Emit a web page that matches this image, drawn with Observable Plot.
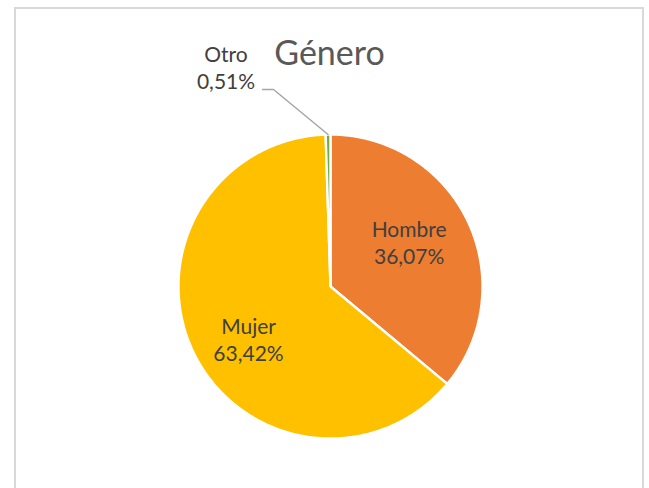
<!DOCTYPE html>
<html>
<head>
<meta charset="utf-8">
<script src="https://cdn.jsdelivr.net/npm/d3@7"></script>
<script src="https://cdn.jsdelivr.net/npm/@observablehq/plot@0.6"></script>
<style>
  html, body { margin: 0; padding: 0; background: #fff; overflow: hidden; }
  #wrap { position: relative; width: 649px; height: 488px; }
  #border { position: absolute; left: 14px; top: 7px; width: 626px; height: 520px;
            border: 2px solid #d9d9d9; box-sizing: content-box; pointer-events: none; }
  #chart { position: absolute; left: 0; top: 0; }
</style>
</head>
<body>
<div id="wrap"><div id="chart"></div><div id="border"></div></div>
<script>
const title = "Género";
const categories = ["Hombre", "Mujer", "Otro"];
const percents = [36.07, 63.42, 0.51];
const percentLabels = ["36,07%", "63,42%", "0,51%"];
const colors = ["#ED7D31", "#FFC000", "#70AD47"];

// Build slice polygons (angles clockwise from 12 o'clock)
const total = d3.sum(percents);
let acc = 0;
const slices = categories.map((name, i) => {
  const a0 = acc / total * 2 * Math.PI;
  acc += percents[i];
  const a1 = acc / total * 2 * Math.PI;
  const pts = [{x: 0, y: 0}];
  const n = Math.max(2, Math.ceil((a1 - a0) / (Math.PI / 360)));
  for (let k = 0; k <= n; k++) {
    const a = a0 + (a1 - a0) * k / n;
    pts.push({x: Math.sin(a), y: Math.cos(a)});
  }
  return {name, color: colors[i], pts, mid: (a0 + a1) / 2, text: name + "\n" + percentLabels[i]};
});

const font = "Lato, 'Open Sans', sans-serif";
const inside = slices.slice(0, 2);
const otro = slices[2];
// leader line for the small slice
const edge = {x: Math.sin(otro.mid), y: Math.cos(otro.mid)};
const leader = [{x: -0.447, y: 1.296}, {x: -0.375, y: 1.296}, edge];

const marks = [
  ...slices.map(s => Plot.line(s.pts, {x: "x", y: "y", fill: s.color, stroke: "white", strokeWidth: 2.4, strokeLinejoin: "miter", curve: "linear-closed"})),
  Plot.text([inside[0]], {x: d => 0.6 * Math.sin(d.mid), y: d => 0.6 * Math.cos(d.mid), text: "text", dx: -4, dy: -6,
    fontSize: 21, fontFamily: font, fill: "#404040", lineHeight: 1.31, lineAnchor: "middle", textAnchor: "middle"}),
  Plot.text([inside[1]], {x: d => 0.6 * Math.sin(d.mid), y: d => 0.6 * Math.cos(d.mid), text: "text", dx: 0, dy: 12,
    fontSize: 21, fontFamily: font, fill: "#404040", lineHeight: 1.31, lineAnchor: "middle", textAnchor: "middle"}),
  Plot.line(leader, {x: "x", y: "y", stroke: "#a6a6a6", strokeWidth: 1.5}),
  Plot.text([otro], {x: () => -0.6875, y: () => 1.445, text: "text",
    fontSize: 21, fontFamily: font, fill: "#404040", lineHeight: 1.31, lineAnchor: "middle", textAnchor: "middle"}),
  Plot.text([title], {x: () => 0, y: () => 1.53, text: d => d, dx: -1,
    fontSize: 34, fontFamily: font, fill: "#595959", lineAnchor: "middle", textAnchor: "middle"})
];

const chart = Plot.plot({
  width: 649,
  height: 488,
  margin: 0,
  style: {background: "transparent", fontFamily: font},
  x: {domain: [-1, 1], range: [178, 482], axis: null},
  y: {domain: [-1, 1], range: [438, 134], axis: null},
  marks
});
document.getElementById("chart").appendChild(chart);
</script>
</body>
</html>
